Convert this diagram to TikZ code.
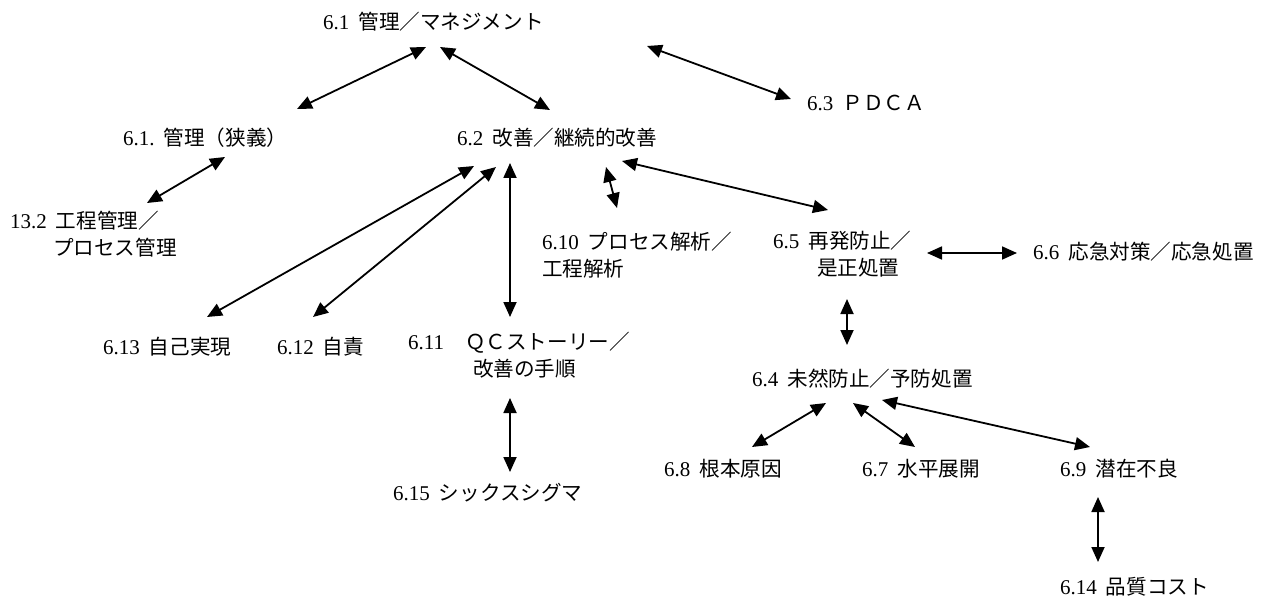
\documentclass[tikz,border=0pt]{standalone}
\usepackage{fontspec}
\setmainfont{Liberation Serif}
\newfontfamily\cjk[Scale=0.98]{Noto Sans CJK JP}
\usetikzlibrary{arrows.meta}
\newcommand\J[1]{{\cjk #1}}
\newcommand\gp{\hspace{9pt}}
\begin{document}
\begin{tikzpicture}[x=1pt,y=-1pt,
  lbl/.style={inner sep=0pt, anchor=west, align=left, font=\fontsize{21}{26.5}\selectfont},
  bi/.style={{Triangle[length=15pt,width=13pt]}-{Triangle[length=15pt,width=13pt]}, line width=1.8pt}]
\path[use as bounding box] (0,0) rectangle (1278,599);

% labels
\node[lbl] (n61)  at (323,22)  {6.1\gp\J{管理／マネジメント}};
\node[lbl] (n61b) at (123,138) {6.1.\gp\J{管理（狭義）}};
\node[lbl] (n62)  at (457,138) {6.2\gp\J{改善／継続的改善}};
\node[lbl] (n63)  at (807,103) {6.3\gp\J{ＰＤＣＡ}};
\node[lbl] (n132) at (10,234)  {13.2\gp\J{工程管理／}\\\hspace*{43pt}\J{プロセス管理}};
\node[lbl] (n610) at (542,255) {6.10\gp\J{プロセス解析／}\\\J{工程解析}};
\node[lbl] (n65)  at (773,254) {6.5\gp\J{再発防止／}\\\hspace*{44pt}\J{是正処置}};
\node[lbl] (n66)  at (1033,252) {6.6\gp\J{応急対策／応急処置}};
\node[lbl] (n613) at (103,347) {6.13\gp\J{自己実現}};
\node[lbl] (n612) at (277,347) {6.12\gp\J{自責}};
\node[lbl] (n611) at (408,355) {6.11\hspace{21pt}\J{ＱＣストーリー／}\\\hspace*{65pt}\J{改善の手順}};
\node[lbl] (n64)  at (752,379) {6.4\gp\J{未然防止／予防処置}};
\node[lbl] (n68)  at (664,469) {6.8\gp\J{根本原因}};
\node[lbl] (n67)  at (862,469) {6.7\gp\J{水平展開}};
\node[lbl] (n69)  at (1060,469) {6.9\gp\J{潜在不良}};
\node[lbl] (n615) at (393,493) {6.15\gp\J{シックスシグマ}};
\node[lbl] (n614) at (1060,587) {6.14\gp\J{品質コスト}};

% connector end points
\coordinate (p1a) at (426,47);  \coordinate (p1b) at (297,109);
\coordinate (p2a) at (440,47);  \coordinate (p2b) at (550,110);
\coordinate (p3a) at (647,46);  \coordinate (p3b) at (791,99);
\coordinate (p4a) at (225,157); \coordinate (p4b) at (147,203);
\coordinate (p5a) at (474,166); \coordinate (p5b) at (207,317);
\coordinate (p6a) at (496,167); \coordinate (p6b) at (313,317);
\coordinate (p7a) at (510,163); \coordinate (p7b) at (510,317);
\coordinate (p8a) at (606,167); \coordinate (p8b) at (617,208);
\coordinate (p9a) at (622,161); \coordinate (p9b) at (828,210);
\coordinate (p10a) at (927,253); \coordinate (p10b) at (1017,253);
\coordinate (p11a) at (847,299); \coordinate (p11b) at (847,345);
\coordinate (p12a) at (510,398); \coordinate (p12b) at (510,472);
\coordinate (p13a) at (826,403); \coordinate (p13b) at (752,447);
\coordinate (p14a) at (853,403); \coordinate (p14b) at (915,447);
\coordinate (p15a) at (882,400); \coordinate (p15b) at (1090,447);
\coordinate (p16a) at (1098,497); \coordinate (p16b) at (1098,562);

\foreach \i in {1,...,16} \draw[bi] (p\i a) -- (p\i b);
\end{tikzpicture}
\end{document}
